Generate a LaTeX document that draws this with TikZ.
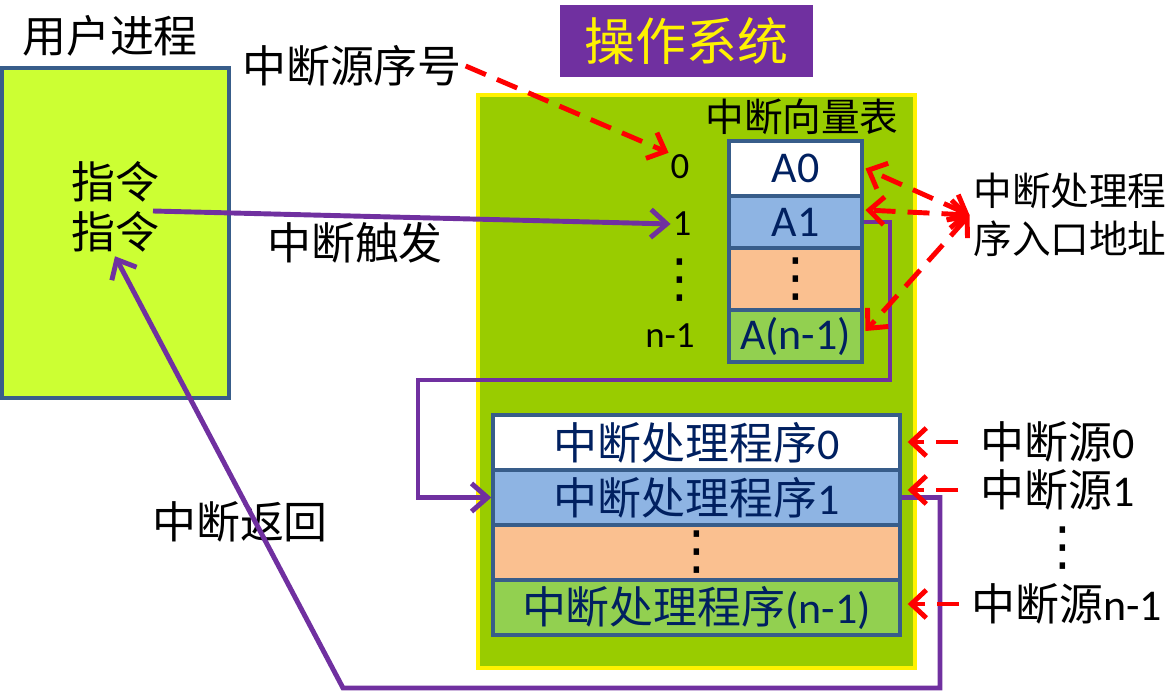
\documentclass[tikz,border=0pt]{standalone}
\usepackage{fontspec}
\setmainfont{Carlito}
\newfontfamily\cjk{Noto Sans CJK SC}
\newfontfamily\symf{DejaVu Sans}
\usepackage{tikz}
\usetikzlibrary{arrows.meta}
\definecolor{userfill}{HTML}{CCFF33}
\definecolor{osfill}{HTML}{99CC00}
\definecolor{boxline}{HTML}{385D8A}
\definecolor{purple}{HTML}{7030A0}
\definecolor{navy}{HTML}{002060}
\definecolor{rowblue}{HTML}{8EB4E3}
\definecolor{roworange}{HTML}{FAC090}
\definecolor{rowgreen}{HTML}{92D050}
\definecolor{red}{HTML}{FF0000}
\newcommand\vdotsx{{\fontsize{30}{34}\selectfont\symf ⋮}}

\begin{document}
\begin{tikzpicture}[x=0.02cm, y=-0.02cm,
    cn/.style={font=\fontsize{25}{30}\selectfont\cjk, inner sep=2pt},
    cnsmall/.style={font=\fontsize{22}{27}\selectfont\cjk, inner sep=2pt},
    lat/.style={font=\fontsize{25}{30}\selectfont, inner sep=2pt},
    idx/.style={font=\fontsize{21}{25}\selectfont, inner sep=1pt},
    row/.style={draw=boxline, line width=2pt, text=navy, font=\fontsize{25}{30}\selectfont, inner sep=0pt},
    vrow/.style={row, minimum width=2.66cm, minimum height=1.04cm},
    hrow/.style={row, minimum width=8.14cm, minimum height=1.1cm},
    flow/.style={purple, line width=2.8pt, -{Straight Barb[length=0.32cm,width=0.56cm]}},
    hint/.style={red, line width=2.8pt, dash pattern=on 0.44cm off 0.24cm, -{Straight Barb[length=0.3cm,width=0.56cm]}},
    hint2/.style={hint, {Straight Barb[length=0.3cm,width=0.56cm]}-{Straight Barb[length=0.3cm,width=0.56cm]}}]
    \useasboundingbox (0,0) rectangle (1174,693);
    \node[draw=boxline, fill=userfill, line width=2pt, minimum width=4.54cm, minimum height=6.6cm] (user) at (115.5,233) {};
    \node[draw=yellow, fill=osfill, line width=2pt, minimum width=8.74cm, minimum height=11.46cm] (os) at (696.5,381.5) {};
    \node[fill=purple, text=yellow, minimum width=5.06cm, minimum height=1.44cm, font=\fontsize{29}{34}\selectfont\cjk] (ostitle) at (686.5,41) {操作系统};
    \node[cn] (usertitle) at (110,36) {用户进程};
    \node[cn] (instr1) at (115,182) {指令};
    \node[cn] (instr2) at (115,232) {指令};
    \node[cn] (srcnum) at (352,66) {中断源序号};
    \node[cn] (trig) at (355,243) {中断触发};
    \node[cn] (ret) at (240,522) {中断返回};
    \node[cnsmall] (vectitle) at (802,117) {中断向量表};
    \node[cnsmall, align=center] (addr) at (1070,215) {中断处理程\\序入口地址};

    \node[idx] (idx0) at (680,167) {0};
    \node[idx] (idx1) at (682,224) {1};
    \node[idx] (idxd) at (680,280) {\vdotsx};
    \node[idx] (idxn) at (670,336) {n-1};

    \node[vrow, fill=white, minimum height=1.1cm] (vA0) at (795.5,168.5) {A0};
    \node[vrow, fill=rowblue] (vA1) at (795.5,222) {A1};
    \node[vrow, fill=roworange, minimum height=1.24cm, text=black] (vdots) at (795.5,279) {\vdotsx};
    \node[vrow, fill=rowgreen] (vAn) at (795.5,336) {A(n-1)};

    \node[hrow, fill=white] (h0) at (696.5,442.5) {{\cjk 中断处理程序}0};
    \node[hrow, fill=rowblue] (h1) at (696.5,497.5) {{\cjk 中断处理程序}1};
    \node[hrow, fill=roworange, text=black] (hdots) at (696.5,552.5) {\vdotsx};
    \node[hrow, fill=rowgreen] (hn) at (696.5,607.5) {{\cjk 中断处理程序}(n-1)};

    \node[lat] (src0) at (1058,442) {{\cjk 中断源}0};
    \node[lat] (src1) at (1058,490) {{\cjk 中断源}1};
    \node[lat] (srcd) at (1063,548) {\vdotsx};
    \node[lat] (srcn) at (1067,604) {{\cjk 中断源}n-1};

    \coordinate (trigstart) at (153,211);
    \draw[flow] (trigstart) -- (idx1.west);
    \draw[flow] (vA1.east) -- (890,222) -- (890,380) -- (418,380) |- (h1.west);
    \draw[flow] (h1.east) -- (940,497.5) -- (940,688) -- (343,688) -- (instr2.south);

    \draw[hint] (srcnum.east) -- (idx0.north west);
    \draw[hint2] (addr.west) -- ([xshift=1pt]vA0.east);
    \draw[hint2] (addr.west) -- ([xshift=1pt,yshift=0.24cm]vA1.east);
    \draw[hint2] (addr.west) -- ([xshift=1pt,yshift=0.1cm]vAn.east);
    \draw[hint, shorten <=0.38cm, shorten >=0.12cm] (src0.west) -- (src0.west -| h0.east);
    \draw[hint, shorten <=0.38cm, shorten >=0.12cm] (src1.west) -- (src1.west -| h1.east);
    \draw[hint, shorten <=0.18cm, shorten >=0.12cm] (srcn.west) -- (srcn.west -| hn.east);
\end{tikzpicture}
\end{document}
